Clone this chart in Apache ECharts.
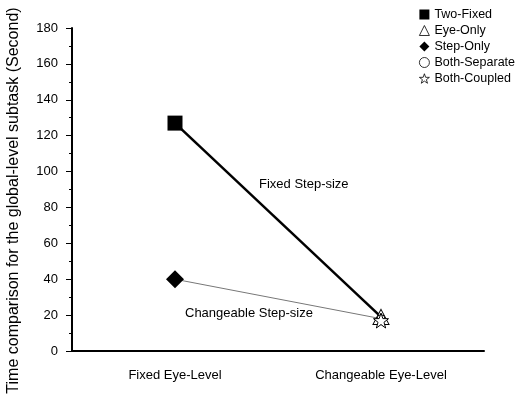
<!DOCTYPE html>
<html>
<head>
<meta charset="utf-8">
<script src="https://cdn.jsdelivr.net/npm/echarts@6/dist/echarts.min.js"></script>
<style>html,body{margin:0;padding:0;background:#fff;}#c{width:517px;height:397px;}</style>
</head>
<body>
<div id="c"></div>
<script>
const categories = ['Fixed Eye-Level', 'Changeable Eye-Level'];
const yTicks = [0, 20, 40, 60, 80, 100, 120, 140, 160, 180];
const twoFixed = [127, null];
const eyeOnly = [null, 19];
const stepOnly = [40, null];
const bothSeparate = [null, 18];
const bothCoupled = [null, 17];
const fixedStepLine = [127, 19];
const changeableStepLine = [40, 18];
const annotations = ['Fixed Step-size', 'Changeable Step-size'];

const STAR = 'path://M50 0 L61.8 33.8 L97.6 34.5 L69 56.2 L79.4 90.5 L50 70 L20.6 90.5 L31 56.2 L2.4 34.5 L38.2 33.8 Z';
const font = 'Liberation Sans, Arial, sans-serif';
const chart = echarts.init(document.getElementById('c'));
const hollow = {color: '#fff', borderColor: '#000', borderWidth: 1, opacity: 1};
chart.setOption({
  animation: false,
  textStyle: {fontFamily: font},
  grid: {left: 72, right: 33, top: 28, bottom: 46, outerBoundsMode: 'none', containLabel: false},
  legend: {
    orient: 'vertical', left: 414, top: 3, itemGap: 3, itemWidth: 10, itemHeight: 10,
    textStyle: {fontSize: 12.5, color: '#000', fontFamily: font},
    itemStyle: {borderWidth: 0.8},
    data: ['Two-Fixed', 'Eye-Only', 'Step-Only', 'Both-Separate', 'Both-Coupled']
  },
  xAxis: {
    type: 'category', data: categories, boundaryGap: true,
    axisLine: {lineStyle: {color: '#000', width: 2}},
    axisTick: {alignWithLabel: true, inside: true, length: 6, lineStyle: {color: '#000'}},
    axisLabel: {color: '#000', fontSize: 13, margin: 18, fontFamily: font},
    splitLine: {show: false}
  },
  yAxis: {
    type: 'value', min: 0, max: 180, interval: 20,
    name: 'Time comparison for the global-level subtask (Second)',
    nameLocation: 'middle', nameGap: 50,
    nameTextStyle: {fontSize: 16, color: '#000', fontFamily: font, padding: [0, 22, 0, 0]},
    axisLine: {show: true, lineStyle: {color: '#000', width: 2}},
    axisTick: {show: true, length: 6, lineStyle: {color: '#000'}},
    minorTick: {show: true, splitNumber: 2, length: 3, lineStyle: {color: '#000'}},
    axisLabel: {color: '#000', fontSize: 13, margin: 14, fontFamily: font,
      formatter: v => yTicks.includes(v) ? String(v) : ''},
    splitLine: {show: false}
  },
  graphic: [
    {type: 'text', left: 259, top: 178, style: {text: annotations[0], fill: '#000', font: '13px ' + font}},
    {type: 'text', left: 185, top: 307, style: {text: annotations[1], fill: '#000', font: '13px ' + font}}
  ],
  series: [
    {type: 'line', data: fixedStepLine, symbol: 'none', lineStyle: {color: '#000', width: 2.5}, silent: true, z: 1},
    {type: 'line', data: changeableStepLine, symbol: 'none', lineStyle: {color: '#777', width: 1}, silent: true, z: 1},
    {name: 'Two-Fixed', type: 'scatter', data: twoFixed, symbol: 'rect', symbolSize: 15, itemStyle: {color: '#000', opacity: 1}, z: 3},
    {name: 'Eye-Only', type: 'scatter', data: eyeOnly, symbol: 'triangle', symbolSize: [16, 15], itemStyle: hollow, z: 3},
    {name: 'Step-Only', type: 'scatter', data: stepOnly, symbol: 'diamond', symbolSize: 18, itemStyle: {color: '#000', opacity: 1}, z: 3},
    {name: 'Both-Separate', type: 'scatter', data: bothSeparate, symbol: 'circle', symbolSize: 8, itemStyle: hollow, z: 3},
    {name: 'Both-Coupled', type: 'scatter', data: bothCoupled, symbol: STAR, symbolSize: 15, itemStyle: hollow, z: 3}
  ]
});
</script>
</body>
</html>
